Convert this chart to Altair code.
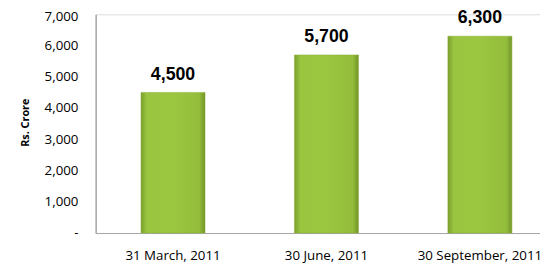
import altair as alt
import pandas as pd

categories = ["31 March, 2011", "30 June, 2011", "30 September, 2011"]
values = [4500, 5700, 6300]
labels = ["4,500", "5,700", "6,300"]
y_ticks = [0, 1000, 2000, 3000, 4000, 5000, 6000, 7000]
y_title = "Rs. Crore"

df = pd.DataFrame({"date": categories, "value": values, "label": labels})

bar_fill = alt.Gradient(
    gradient="linear",
    x1=0, x2=1, y1=0, y2=0,
    stops=[
        alt.GradientStop(color="#7a9f2c", offset=0),
        alt.GradientStop(color="#99c540", offset=0.09),
        alt.GradientStop(color="#9bc640", offset=0.5),
        alt.GradientStop(color="#93bd3b", offset=0.91),
        alt.GradientStop(color="#739629", offset=1),
    ],
)

x = alt.X(
    "date:N",
    sort=categories,
    title=None,
    scale=alt.Scale(paddingInner=0.5827, paddingOuter=0.2392, align=0.6175),
    axis=alt.Axis(
        labelAngle=0,
        ticks=False,
        labelPadding=16,
        labelFont="Open Sans",
        labelFontSize=13.5,
        labelColor="#000000",
        domainColor="#a6a6a6",
        domainWidth=1,
        labelOverlap=False,
        labelBound=False,
        labelFlush=False,
    ),
)

y = alt.Y(
    "value:Q",
    title=y_title,
    scale=alt.Scale(domain=[0, 7000], nice=False),
    axis=alt.Axis(
        values=y_ticks,
        labelExpr="datum.value == 0 ? '-\u00a0\u00a0' : format(datum.value, ',')",
        labelOffset={"condition": {"test": "datum.value == 7000", "value": 2.5}, "value": 0},
        labelOverlap=False,
        grid=False,
        ticks=False,
        labelPadding=18,
        labelFont="Open Sans",
        labelFontSize=13.5,
        labelColor="#000000",
        domainColor="#a6a6a6",
        domainWidth=1.5,
        titleFont="Open Sans",
        titleFontSize=11,
        titleFontWeight="bold",
        titleColor="#000000",
        titleX=-68,
        titleY=109.5,
        titleBaseline="alphabetic",
    ),
)

bars = alt.Chart(df).mark_bar(fill=bar_fill, stroke="#86ad33", strokeWidth=0.5).encode(x=x, y=y)

text = alt.Chart(df).mark_text(
    baseline="bottom",
    dy=-9,
    font="Liberation Sans",
    fontSize=18,
    fontWeight="bold",
    color="#000000",
).encode(x=x, y=y, text="label:N")

chart = (
    alt.layer(bars, text)
    .properties(
        width=451,
        height=222,
        autosize=alt.AutoSizeParams(type="none"),
        padding={"left": 89, "top": 4.5, "right": 0, "bottom": 29.5},
    )
    .configure_view(stroke=None)
    .configure(background="#ffffff")
)

chart.save("out.html", embed_options={"renderer": "svg", "actions": False})
